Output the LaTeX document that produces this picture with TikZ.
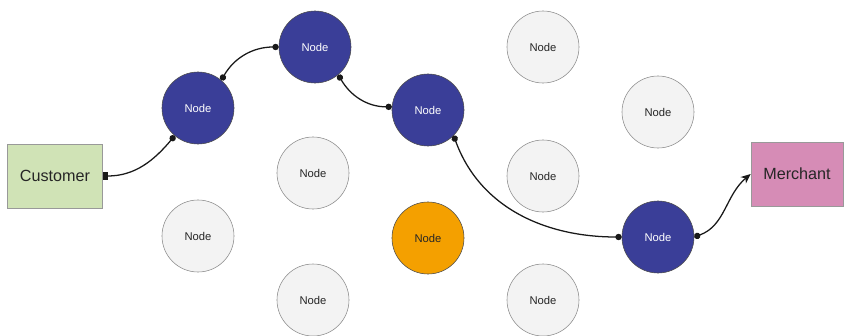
\documentclass[tikz,border=0pt]{standalone}
\usepackage{fontspec}
\setmainfont{Liberation Sans}
\usepackage{tikz}
\usetikzlibrary{positioning, arrows.meta}

\definecolor{hopblue}{RGB}{58,62,152}
\definecolor{idlegray}{RGB}{243,243,243}
\definecolor{busyorange}{RGB}{244,160,0}
\definecolor{custgreen}{RGB}{208,227,182}
\definecolor{merchpink}{RGB}{214,140,182}

\begin{document}
\begin{tikzpicture}[
    x=0.025cm, y=-0.025cm,
    node/.style={circle, draw=black!70, minimum size=1.8cm, inner sep=0pt, font=\fontsize{8}{9}\selectfont},
    hop/.style={node, fill=hopblue, text=white},
    idle/.style={node, draw=black!45, fill=idlegray, text=black!85},
    busy/.style={node, fill=busyorange, text=black!85},
    party/.style={rectangle, draw=black!40, minimum height=1.6cm, inner sep=0pt, font=\fontsize{11.5}{13}\selectfont, text=black!85},
    link/.style={line width=0.9pt, black!90}
]
    \useasboundingbox (0,0) rectangle (844,336);

    \node[party, fill=custgreen, minimum width=2.375cm] (cust) at (55,176) {Customer};
    \node[party, fill=merchpink, minimum width=2.3cm] (merch) at (797,174) {Merchant};

    % route nodes
    \node[hop] (h1) at (198,108) {Node};
    \node[hop] (h2) at (315,47) {Node};
    \node[hop] (h3) at (428,110) {Node};
    \node[hop] (h4) at (658,237) {Node};

    % other nodes
    \node[idle] (i1) at (543,47) {Node};
    \node[idle] (i2) at (658,112) {Node};
    \node[idle] (i3) at (313,173) {Node};
    \node[idle] (i4) at (543,176) {Node};
    \node[idle] (i5) at (198,236) {Node};
    \node[idle] (i6) at (313,300) {Node};
    \node[idle] (i7) at (543,300) {Node};
    \node[busy] (b1) at (428,238) {Node};

    \draw[link, {Square[length=4pt,width=5pt]}-{Circle[length=4.5pt]}] (cust.east) to[out=0, in=230] (h1.230);
    \draw[link, {Circle[length=4.5pt]}-{Circle[length=4.5pt]}] (h1.50) to[out=60, in=180] (h2.180);
    \draw[link, {Circle[length=4.5pt]}-{Circle[length=4.5pt]}] (h2.310) to[out=300, in=180] (h3.175);
    \draw[link, {Circle[length=4.5pt]}-{Circle[length=4.5pt]}] (h3.315) to[out=-70, in=180] (h4.180);
    \draw[link, {Circle[length=4.5pt]}-{Stealth[length=7pt,width=6pt]}] (h4.0) to[out=20, in=220] (merch.west);
\end{tikzpicture}
\end{document}
